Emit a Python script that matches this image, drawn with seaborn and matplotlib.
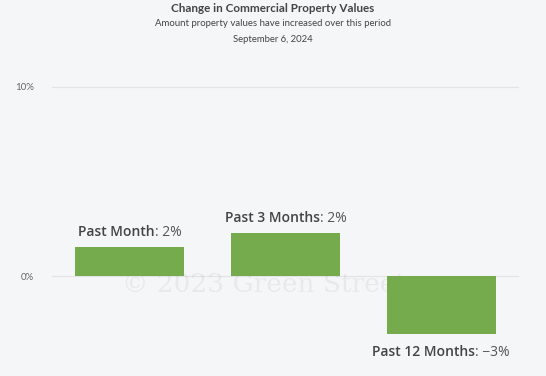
import matplotlib
matplotlib.use("Agg")
import matplotlib.pyplot as plt
import seaborn as sns
import pandas as pd

# data
periods = ["Past Month", "Past 3 Months", "Past 12 Months"]
changes = [1.55, 2.3, -3.05]
shown = ["2%", "2%", "-3%"]
ticks = [0, 10]
tick_labels = ["0%", "10%"]

bg = "#f5f6f8"
green = "#75ab4d"

sns.set_style("white")
plt.rcParams["font.family"] = ["Lato", "DejaVu Sans"]

df = pd.DataFrame({"period": periods, "change": changes})

fig = plt.figure(figsize=(5.46, 3.76), dpi=100, facecolor=bg)
# axes placed so 10% sits at y=87px and 0% at y=276px
ax = fig.add_axes([52 / 546, (376 - 370.5) / 376, 467 / 546, 292.95 / 376])
ax.set_facecolor(bg)

sns.barplot(data=df, x="period", y="change", color=green, width=0.7,
            saturation=1, linewidth=0, ax=ax, zorder=2)

ax.set_ylim(-5, 10.5)
ax.set_xlim(-0.5, 2.5)
ax.set_yticks(ticks)
ax.set_yticklabels(tick_labels, fontsize=7, color="#666666")
ax.tick_params(axis="y", length=0, pad=13)
ax.set_xticks([])
ax.set_xlabel("")
ax.set_ylabel("")
ax.grid(axis="y", color="#e3e3e3", linewidth=0.8, zorder=0)
for s in ax.spines.values():
    s.set_visible(False)

# watermark
ax.text(-0.05, -0.45, "\u00a9 2023 Green Street", fontsize=19, color="#000000",
        alpha=0.05, family="DejaVu Serif", ha="left", va="center", zorder=1)

# bar labels: semibold name + regular value, centred together on one baseline
fig.canvas.draw()
r = fig.canvas.get_renderer()
k = 72 / fig.dpi
for i, (name, val, txt) in enumerate(zip(periods, changes, shown)):
    off = 11 if val >= 0 else -22  # pixels, baseline offset
    a = ax.annotate(name, (i, val), xytext=(0, off * k), textcoords="offset points",
                    fontsize=10, fontweight="semibold", color="#444444",
                    family=["Open Sans", "DejaVu Sans"], ha="left", va="baseline")
    b = ax.annotate(": " + txt.replace("-", "\u2212"), (i, val), xytext=(0, off * k),
                    textcoords="offset points", fontsize=10, color="#555555",
                    family=["Open Sans", "DejaVu Sans"], ha="left", va="baseline")
    wa = a.get_window_extent(r).width
    wb = b.get_window_extent(r).width
    a.set_position((-(wa + wb) / 2 * k, off * k))
    b.set_position(((-(wa + wb) / 2 + wa) * k, off * k))

fig.text(0.5, 1 - 8 / 376, "Change in Commercial Property Values", ha="center",
         va="center", fontsize=8.4, fontweight="bold", color="#444444")
fig.text(0.5, 1 - 24 / 376, "Amount property values have increased over this period",
         ha="center", va="center", fontsize=6.9, color="#444444")
fig.text(0.5, 1 - 40 / 376, "September 6, 2024", ha="center", va="center",
         fontsize=6.8, color="#444444")

fig.savefig("out.png", dpi=100, facecolor=bg)
